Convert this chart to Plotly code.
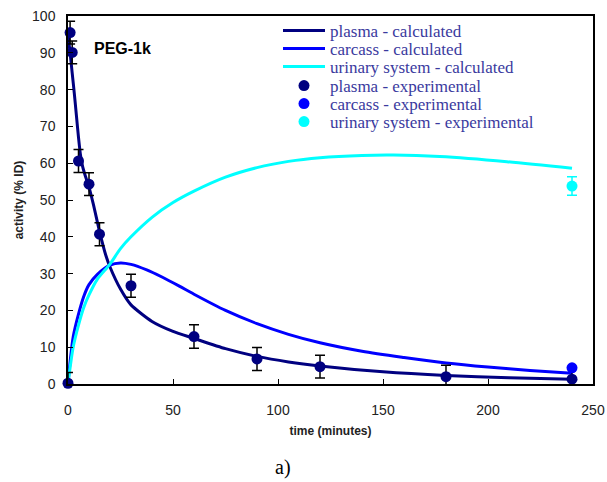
import plotly.graph_objects as go

# --- model curves (time in minutes, activity in % ID) ---
t_plasma_calc = [0, 1, 2, 3, 4, 5, 6, 7, 8, 10, 12, 15, 18, 20, 25, 30, 40, 50, 60, 75, 90, 105, 120, 150, 180, 210, 240]
plasma_calc = [95, 90, 84.5, 79, 73, 67, 62, 59, 57, 53.5, 49, 41.5, 35, 31.8, 25.8, 21.5, 17, 14.3, 12.4, 9.6, 7.5, 6.0, 4.9, 3.3, 2.3, 1.7, 1.3]

t_carcass_calc = [0, 1, 2.5, 5, 7.5, 10, 14, 20, 25, 30, 37.5, 45, 53, 60, 75, 90, 105, 120, 140, 160, 180, 200, 220, 240]
carcass_calc = [0, 6, 12.9, 19, 23.8, 27, 29.8, 32.3, 32.9, 32.5, 31, 29.0, 26.6, 24.4, 20.0, 16.4, 13.5, 11.2, 8.9, 7.2, 5.7, 4.6, 3.7, 2.9]

t_urinary_calc = [0, 2.5, 5, 7.5, 10, 14, 20, 25, 30, 40, 50, 60, 75, 90, 105, 120, 140, 155, 177, 209, 240]
urinary_calc = [0, 10.1, 16, 20.8, 24.2, 28.5, 32.6, 36.8, 40, 45.3, 49.3, 52.4, 56.2, 58.8, 60.5, 61.5, 62.1, 62.2, 61.8, 60.4, 58.6]

# --- measured points ---
t_plasma_exp = [0, 1, 2, 5, 10, 15, 30, 60, 90, 120, 180, 240]
plasma_exp = [0.2, 95.5, 90.1, 60.6, 54.3, 40.7, 26.7, 12.9, 6.8, 4.7, 2.0, 1.3]
plasma_err_plus = [2.9, 3.1, 3.1, 3.1, 3.1, 3.1, 3.1, 3.2, 3.1, 3.1, 3.1, 3.1]
plasma_err_minus = [0, 3.1, 3.1, 3.1, 3.1, 3.1, 3.1, 3.2, 3.1, 3.1, 3.1, 3.1]

t_carcass_exp = [240]
carcass_exp = [4.4]

t_urinary_exp = [240]
urinary_exp = [53.8]
urinary_err = [2.5]

C_PLASMA = "#000080"
C_CARCASS = "#0000FF"
C_URINARY = "#00FFFF"
LEGEND_TXT = "#3a3a9e"

fig = go.Figure()

fig.add_trace(go.Scatter(x=t_plasma_calc, y=plasma_calc, mode="lines",
                         line=dict(color=C_PLASMA, width=3, shape="spline", smoothing=0.6),
                         name="plasma - calculated", legend="legend"))
fig.add_trace(go.Scatter(x=t_carcass_calc, y=carcass_calc, mode="lines",
                         line=dict(color=C_CARCASS, width=3, shape="spline", smoothing=0.8),
                         name="carcass - calculated", legend="legend2"))
fig.add_trace(go.Scatter(x=t_urinary_calc, y=urinary_calc, mode="lines",
                         line=dict(color=C_URINARY, width=3, shape="spline", smoothing=0.8),
                         name="urinary system - calculated", legend="legend3"))

fig.add_trace(go.Scatter(x=t_plasma_exp, y=plasma_exp, mode="markers",
                         marker=dict(color=C_PLASMA, size=11),
                         error_y=dict(type="data", array=plasma_err_plus, arrayminus=plasma_err_minus,
                                      color="black", thickness=1.5, width=5),
                         cliponaxis=False,
                         name="plasma - experimental", legend="legend4"))
fig.add_trace(go.Scatter(x=t_carcass_exp, y=carcass_exp, mode="markers",
                         marker=dict(color=C_CARCASS, size=11), cliponaxis=False,
                         name="carcass - experimental", legend="legend5"))
fig.add_trace(go.Scatter(x=t_urinary_exp, y=urinary_exp, mode="markers",
                         marker=dict(color=C_URINARY, size=11),
                         error_y=dict(type="data", array=urinary_err, color=C_URINARY, thickness=1.5, width=5),
                         cliponaxis=False,
                         name="urinary system - experimental", legend="legend6"))

# plot area in pixels: left 68, right 593, top 16, bottom 384
W, H = 607, 482
L, R, T, B = 68, 14, 16, 98
plot_w = W - L - R
plot_h = H - T - B

def py2paper(py):
    return (H - B - py) / plot_h

def px2paper(px):
    return (px - L) / plot_w

legend_rows = [31, 49, 67, 86, 104, 122]
legend_common = dict(x=px2paper(278), xanchor="left", yanchor="middle", bgcolor="rgba(0,0,0,0)",
                     borderwidth=0, itemwidth=42,
                     font=dict(family="Liberation Serif", size=17, color=LEGEND_TXT))
layout_legends = {}
for i, row in enumerate(legend_rows):
    key = "legend" if i == 0 else f"legend{i + 1}"
    layout_legends[key] = dict(legend_common, y=py2paper(row))

axis_font = dict(family="Liberation Sans", size=14, color="#222222")
title_font = dict(family="Liberation Sans", size=12, color="#222222")

fig.update_layout(
    width=W, height=H,
    margin=dict(l=L, r=R, t=T, b=B, pad=0, autoexpand=False),
    paper_bgcolor="white", plot_bgcolor="white",
    showlegend=True,
    xaxis=dict(range=[0, 250], dtick=50, tick0=0, ticks="inside", ticklen=5, tickwidth=1,
               tickcolor="black", showline=True, linecolor="black", linewidth=1.5, mirror=True,
               showgrid=False, zeroline=False, tickfont=axis_font, ticklabelstandoff=12,
               automargin=False,
               title=dict(text="<b>time (minutes)</b>", font=title_font, standoff=10)),
    yaxis=dict(range=[0, 100], dtick=10, tick0=0, ticks="inside", ticklen=5, tickwidth=1,
               tickcolor="black", showline=True, linecolor="black", linewidth=1.5, mirror=True,
               showgrid=False, zeroline=False, tickfont=axis_font, ticklabelstandoff=8,
               automargin=False,
               title=dict(text="<b>activity (% ID)</b>", font=title_font, standoff=6)),
    annotations=[
        dict(text="<b>PEG-1k</b>", xref="paper", yref="paper",
             x=px2paper(122), y=py2paper(48), xanchor="center", yanchor="middle",
             showarrow=False, font=dict(family="Liberation Sans", size=16, color="black")),
        dict(text="a)", xref="paper", yref="paper",
             x=px2paper(283), y=py2paper(467), xanchor="center", yanchor="middle",
             showarrow=False, font=dict(family="Liberation Serif", size=20, color="black")),
    ],
    **layout_legends,
)

fig.write_html("out.html")
